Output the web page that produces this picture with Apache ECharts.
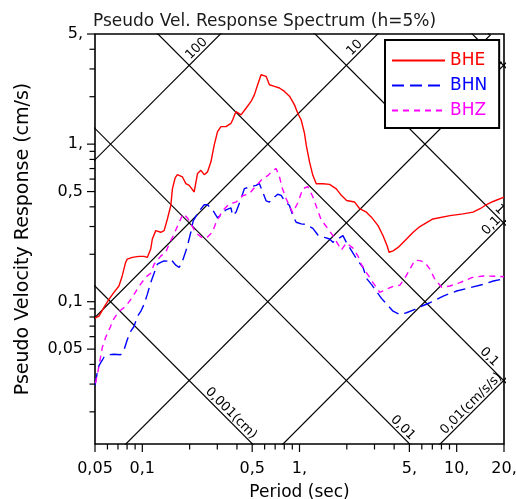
<!DOCTYPE html>
<html>
<head>
<meta charset="utf-8">
<title>Pseudo Velocity Response Spectrum</title>
<script src="https://cdn.jsdelivr.net/npm/echarts@6/dist/echarts.min.js"></script>
<style>
  html, body { margin: 0; padding: 0; background: #fff; }
  #chart { width: 516px; height: 499px; }
</style>
</head>
<body>
<div id="chart"></div>
<script>
// Axis ranges (period in s, pseudo velocity in cm/s)
const periodRange = [0.05, 20];
const velocityRange = [0.0125, 5];

// Tick values
const xMajorTicks = [0.05, 0.1, 0.5, 1, 5, 10, 20];
const xMinorTicks = [0.06, 0.07, 0.08, 0.09, 0.2, 0.3, 0.4, 0.6, 0.7, 0.8, 0.9, 2, 3, 4, 6, 7, 8, 9];
const yMajorTicks = [0.05, 0.1, 0.5, 1, 5];
const yMinorTicks = [0.02, 0.03, 0.04, 0.06, 0.07, 0.08, 0.09, 0.2, 0.3, 0.4, 0.6, 0.7, 0.8, 0.9, 2, 3, 4];

// Tripartite grid: constant displacement (cm) and constant acceleration (cm/s/s)
const displacementLines = [0.001, 0.01, 0.1, 1, 10];
const accelerationLines = [0.01, 0.1, 1, 10, 100];

// Where each diagonal is labelled (period along the line)
const displacementLabelAt = [0.343, 4.245, 15.07, 17.5, 15.07];
const accelerationLabelAt = [13.25, 17.8, 19.5, 2.40, 0.237];

// Spectra: [period (s), pseudo velocity (cm/s)]
const bhe = [
  [0.050,0.0788],[0.053,0.0809],[0.057,0.092],[0.0613,0.1035],[0.066,0.1147],[0.071,0.1258],
  [0.0745,0.1457],[0.0783,0.1775],[0.0802,0.1863],[0.0863,0.191],[0.0953,0.194],[0.1025,0.194],
  [0.1076,0.191],[0.1131,0.216],[0.1158,0.25],[0.1218,0.2825],[0.1247,0.2895],[0.131,0.2758],
  [0.1376,0.2825],[0.1444,0.335],[0.1518,0.408],[0.1554,0.52],[0.1617,0.61],[0.1672,0.64],
  [0.18,0.619],[0.1892,0.561],[0.1987,0.547],[0.2037,0.561],[0.2138,0.497],[0.2244,0.65],
  [0.236,0.682],[0.2475,0.64],[0.26,0.667],[0.2733,0.772],[0.2866,0.985],[0.301,1.2],
  [0.3164,1.291],[0.3405,1.291],[0.3665,1.356],[0.3753,1.423],[0.3945,1.61],[0.4246,1.532],
  [0.457,1.69],[0.4918,1.866],[0.5162,2.055],[0.5417,2.381],[0.5696,2.758],[0.5833,2.828],
  [0.6131,2.694],[0.6435,2.381],[0.6925,2.326],[0.7454,2.27],[0.8023,2.16],[0.8634,2.015],
  [0.929,1.775],[0.975,1.57],[1.025,1.423],[1.076,1.17],[1.104,0.985],[1.158,0.772],
  [1.216,0.634],[1.278,0.561],[1.408,0.561],[1.554,0.555],[1.715,0.52],[1.845,0.473],
  [1.995,0.439],[2.244,0.429],[2.415,0.389],[2.665,0.37],[2.868,0.344],[3.16,0.304],
  [3.401,0.262],[3.607,0.2265],[3.715,0.206],[3.938,0.21],[4.24,0.221],[4.797,0.25],
  [5.285,0.276],[5.833,0.30],[7.06,0.335],[9.07,0.352],[10.97,0.361],[12.7,0.37],
  [14.08,0.389],[15.16,0.408],[17.05,0.4325],[20,0.461]
];
const bhn = [
  [0.050,0.0296],[0.0516,0.0352],[0.0529,0.0392],[0.057,0.0444],[0.0613,0.0461],[0.066,0.0464],
  [0.0728,0.0461],[0.0764,0.0492],[0.0802,0.0574],[0.0843,0.0649],[0.0885,0.0696],[0.0929,0.0805],
  [0.0977,0.0867],[0.1025,0.0961],[0.1076,0.1113],[0.1131,0.1322],[0.1188,0.1516],[0.1247,0.173],
  [0.131,0.1775],[0.1376,0.1817],[0.1444,0.1809],[0.1518,0.1863],[0.1633,0.1705],[0.1715,0.1649],
  [0.18,0.1809],[0.1892,0.2096],[0.1937,0.2265],[0.2037,0.277],[0.2107,0.3257],[0.2244,0.361],
  [0.236,0.3885],[0.2475,0.412],[0.26,0.412],[0.2797,0.3828],[0.301,0.3403],[0.3164,0.3556],
  [0.3405,0.3828],[0.3665,0.3942],[0.3753,0.352],[0.3945,0.37],[0.4246,0.45],[0.4457,0.5215],
  [0.4918,0.537],[0.5293,0.547],[0.5557,0.561],[0.5833,0.4966],[0.6131,0.4369],[0.6435,0.4286],
  [0.6925,0.4614],[0.727,0.4808],[0.7642,0.4725],[0.8023,0.4369],[0.8634,0.4077],[0.9062,0.352],
  [0.9526,0.3195],[1.025,0.3116],[1.104,0.3093],[1.216,0.2917],[1.309,0.265],[1.444,0.2562],
  [1.554,0.25],[1.631,0.2381],[1.715,0.2463],[1.889,0.2624],[1.986,0.2381],[2.189,0.2034],
  [2.355,0.1809],[2.535,0.1656],[2.665,0.1409],[2.868,0.1289],[3.087,0.1163],[3.322,0.105],
  [3.575,0.0968],[3.938,0.0871],[4.346,0.083],[4.797,0.0851],[5.42,0.0893],[5.833,0.0927],
  [6.754,0.0985],[8.214,0.1086],[10.0,0.1169],[12.16,0.1229],[14.79,0.1289],[17.13,0.1353],
  [20,0.1398]
];
const bhz = [
  [0.0504,0.0304],[0.0529,0.0386],[0.0556,0.0511],[0.0584,0.0592],[0.0628,0.0696],[0.066,0.0782],
  [0.071,0.0867],[0.0783,0.0933],[0.0863,0.1065],[0.0953,0.1253],[0.1051,0.1429],[0.1131,0.1516],
  [0.1188,0.173],[0.131,0.1947],[0.1411,0.2064],[0.1481,0.2322],[0.1593,0.2691],[0.1715,0.3195],
  [0.1818,0.361],[0.1937,0.3403],[0.2037,0.3116],[0.2192,0.2731],[0.2415,0.2536],[0.26,0.2573],
  [0.2797,0.277],[0.294,0.3162],[0.324,0.3772],[0.3574,0.4181],[0.3945,0.4286],[0.4345,0.4704],
  [0.4797,0.4844],[0.5162,0.5292],[0.5833,0.604],[0.6275,0.631],[0.6755,0.6792],[0.7101,0.6995],
  [0.7454,0.6218],[0.7792,0.5215],[0.8225,0.45],[0.8634,0.4059],[0.9062,0.3664],[0.9754,0.4243],
  [1.05,0.5215],[1.13,0.537],[1.216,0.4634],[1.309,0.3772],[1.375,0.3305],[1.48,0.3003],
  [1.631,0.2624],[1.756,0.2322],[1.845,0.2126],[1.986,0.2357],[2.189,0.2189],[2.355,0.1947],
  [2.487,0.1705],[2.665,0.1532],[2.936,0.1322],[3.239,0.1147],[3.575,0.1199],[3.938,0.1253],
  [4.346,0.1271],[4.679,0.1409],[5.035,0.1608],[5.42,0.1836],[5.833,0.1822],[6.277,0.1775],
  [6.754,0.1608],[7.268,0.1388],[8.022,0.1235],[9.063,0.1258],[10.5,0.1322],[12.47,0.1423],
  [14.79,0.1457],[17.13,0.1451],[20,0.144]
];

const FONT = '"DejaVu Sans", "Liberation Sans", Arial, sans-serif';
const TWO_PI = 2 * Math.PI;

// velocity on a constant-displacement / constant-acceleration line
const velFromDisp = (d, t) => TWO_PI * d / t;
const velFromAcc = (a, t) => a * t / TWO_PI;

// "0.05" -> "0,05", "1" -> "1,"
const axisFmt = v => v >= 1 ? String(v) + ',' : String(v).replace('.', ',');
const diagFmt = v => String(v).replace('.', ',');

const series = [];

// Diagonal grid lines, clipped to the plotting area
const farPeriods = [1e-4, 1e4];
displacementLines.forEach(d => {
  series.push({
    type: 'line', silent: true, symbol: 'none', z: 1, clip: true,
    lineStyle: { color: '#000', width: 1.2 },
    data: farPeriods.map(t => [t, velFromDisp(d, t)])
  });
});
accelerationLines.forEach(a => {
  series.push({
    type: 'line', silent: true, symbol: 'none', z: 1, clip: true,
    lineStyle: { color: '#000', width: 1.2 },
    data: farPeriods.map(t => [t, velFromAcc(a, t)])
  });
});

// Diagonal labels
const diagLabels = [];
displacementLines.forEach((d, i) => {
  const t = displacementLabelAt[i];
  diagLabels.push({ value: [t, velFromDisp(d, t)], asc: false,
    text: diagFmt(d) + (i === 0 ? '(cm)' : '') });
});
accelerationLines.forEach((a, i) => {
  const t = accelerationLabelAt[i];
  diagLabels.push({ value: [t, velFromAcc(a, t)], asc: true,
    text: diagFmt(a) + (i === 0 ? '(cm/s/s)' : '') });
});
const DIAG_OFF = 6.5 / Math.SQRT2;
series.push({
  type: 'custom', silent: true, z: 2,
  data: diagLabels.map((l, i) => [l.value[0], l.value[1], i]),
  renderItem: (params, api) => {
    const lab = diagLabels[api.value(2)];
    const p = api.coord([api.value(0), api.value(1)]);
    return {
      type: 'text',
      x: p[0] + (lab.asc ? -DIAG_OFF : DIAG_OFF),
      y: p[1] - DIAG_OFF,
      rotation: lab.asc ? Math.PI / 4 : -Math.PI / 4,
      style: { text: lab.text, fill: '#000', font: '13px ' + FONT, align: 'center', verticalAlign: 'middle' }
    };
  }
});

// Spectra
const spectra = [
  { name: 'BHE', data: bhe, color: '#ff0000', type: 'solid' },
  { name: 'BHN', data: bhn, color: '#0000ff', type: [12, 6] },
  { name: 'BHZ', data: bhz, color: '#ff00ff', type: [6, 5] }
];
spectra.forEach(s => {
  series.push({
    name: s.name, type: 'line', symbol: 'none', showSymbol: false, z: 3, clip: true,
    color: s.color,
    lineStyle: { color: s.color, width: 1.4, type: s.type },
    data: s.data
  });
});

// Axis ticks and tick labels drawn through the axes' scales
function tickSeries(values, axis, len) {
  return {
    type: 'custom', silent: true, z: 4,
    data: values.map(v => axis === 'x' ? [v, velocityRange[0]] : [periodRange[0], v]),
    renderItem: (params, api) => {
      const p = api.coord([api.value(0), api.value(1)]);
      const shape = axis === 'x'
        ? { x1: p[0], y1: p[1], x2: p[0], y2: p[1] + len }
        : { x1: p[0], y1: p[1], x2: p[0] - len, y2: p[1] };
      return { type: 'line', shape, style: { stroke: '#000', lineWidth: 1.2 } };
    }
  };
}
function tickLabelSeries(values, axis) {
  return {
    type: 'custom', silent: true, z: 4,
    data: values.map(v => axis === 'x' ? [v, velocityRange[0]] : [periodRange[0], v]),
    renderItem: (params, api) => {
      const v = values[params.dataIndex];
      const p = api.coord([api.value(0), api.value(1)]);
      return {
        type: 'text',
        x: axis === 'x' ? p[0] : p[0] - 12,
        y: axis === 'x' ? p[1] + 25 : p[1],
        style: { text: axisFmt(v), fill: '#000', font: '16px ' + FONT,
          align: axis === 'x' ? 'center' : 'right', verticalAlign: 'middle' }
      };
    }
  };
}
series.push(tickSeries(xMajorTicks, 'x', 8));
series.push(tickSeries(xMinorTicks, 'x', 5.5));
series.push(tickSeries(yMajorTicks, 'y', 8));
series.push(tickSeries(yMinorTicks, 'y', 5.5));
series.push(tickLabelSeries(xMajorTicks, 'x'));
series.push(tickLabelSeries(yMajorTicks, 'y'));

const chart = echarts.init(document.getElementById('chart'), null, { renderer: 'canvas' });
chart.setOption({
  animation: false,
  backgroundColor: '#fff',
  title: {
    text: 'Pseudo Vel. Response Spectrum (h=5%)',
    left: 88, top: 8,
    textStyle: { fontFamily: FONT, fontSize: 17, fontWeight: 'normal', color: '#1a1a1a' }
  },
  grid: {
    left: 95, top: 34, right: 12, bottom: 55,
    outerBoundsMode: 'none', containLabel: false,
    show: true, borderColor: '#000', borderWidth: 1.6, backgroundColor: 'transparent'
  },
  legend: {
    left: 385, top: 40, orient: 'vertical',
    itemWidth: 53, itemHeight: 14, itemGap: 8,
    padding: [12, 12, 9, 6],
    borderColor: '#000', borderWidth: 2, backgroundColor: '#fff',
    selectedMode: false, z: 10,
    itemStyle: { opacity: 0 },
    textStyle: { fontFamily: FONT, fontSize: 17, lineHeight: 14 },
    data: spectra.map(s => ({ name: s.name, textStyle: { color: s.color } }))
  },
  xAxis: {
    type: 'log', logBase: 10, min: periodRange[0], max: periodRange[1],
    name: 'Period (sec)', nameLocation: 'middle', nameGap: 40,
    nameTextStyle: { fontFamily: FONT, fontSize: 17, color: '#000' },
    axisLine: { show: false }, axisTick: { show: false }, axisLabel: { show: false },
    splitLine: { show: false }, minorTick: { show: false }
  },
  yAxis: {
    type: 'log', logBase: 10, min: velocityRange[0], max: velocityRange[1],
    name: 'Pseudo Velocity Response (cm/s)', nameLocation: 'middle', nameGap: 62,
    nameTextStyle: { fontFamily: FONT, fontSize: 19, color: '#000' },
    axisLine: { show: false }, axisTick: { show: false }, axisLabel: { show: false },
    splitLine: { show: false }, minorTick: { show: false }
  },
  series
});
</script>
</body>
</html>
